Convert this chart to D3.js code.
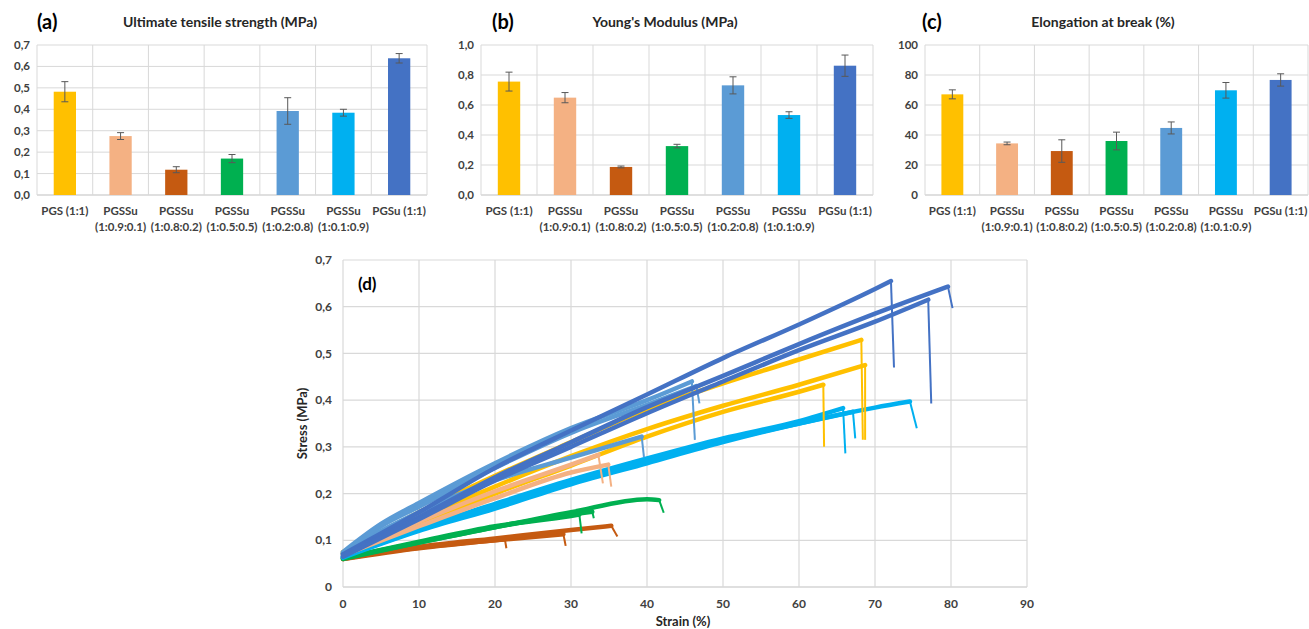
<!DOCTYPE html>
<html>
<head>
<meta charset="utf-8">
<script src="https://cdn.jsdelivr.net/npm/d3@7"></script>
<style>
  body { margin: 0; background: #fff; }
  svg text { font-family: Lato, "Open Sans", sans-serif; font-weight: 700; fill: #404040; }
</style>
</head>
<body>
<svg id="chart" width="1309" height="629"></svg>
<script>
// sample names (shared by the three bar panels)
const categories = ['PGS (1:1)', 'PGSSu (1:0.9:0.1)', 'PGSSu (1:0.8:0.2)', 'PGSSu (1:0.5:0.5)',
  'PGSSu (1:0.2:0.8)', 'PGSSu (1:0.1:0.9)', 'PGSu (1:1)']
const colors = ['#FFC000', '#F4B183', '#C55A11', '#00B050', '#5B9BD5', '#00B0F0', '#4472C4']

// (a) ultimate tensile strength, MPa
const utsValues = [0.482, 0.275, 0.118, 0.170, 0.392, 0.384, 0.638]
const utsErrors = [0.047, 0.016, 0.014, 0.019, 0.062, 0.016, 0.022]
// (b) Young's modulus, MPa
const modulusValues = [0.756, 0.649, 0.187, 0.326, 0.731, 0.533, 0.862]
const modulusErrors = [0.063, 0.034, 0.006, 0.012, 0.057, 0.022, 0.071]
// (c) elongation at break, %
const elongValues = [67.1, 34.4, 29.3, 36.0, 44.7, 69.8, 76.7]
const elongErrors = [3.0, 0.9, 7.5, 5.9, 4.0, 5.2, 4.1]

const utsTicks = [0, 0.1, 0.2, 0.3, 0.4, 0.5, 0.6, 0.7]
const modulusTicks = [0, 0.2, 0.4, 0.6, 0.8, 1.0]
const elongTicks = [0, 20, 40, 60, 80, 100]

// (d) stress-strain curves: [strain %, stress MPa], last point = end of the break drop
const pgs1 = [[0, 0.075], [10, 0.16], [20, 0.238], [30, 0.31], [40, 0.38], [50, 0.436], [60, 0.487], [68.2, 0.529], [68.4, 0.315]]
const pgs2 = [[0, 0.072], [10, 0.145], [20, 0.215], [30, 0.28], [40, 0.338], [50, 0.388], [60, 0.433], [68.7, 0.475], [68.7, 0.315]]
const pgs3 = [[0, 0.072], [10, 0.135], [20, 0.2], [30, 0.26], [40, 0.322], [50, 0.375], [60, 0.418], [63.2, 0.433], [63.3, 0.30]]
const su91a = [[0, 0.07], [10, 0.14], [20, 0.205], [30, 0.262], [33.6, 0.283], [34.2, 0.222]]
const su91b = [[0, 0.068], [10, 0.13], [20, 0.19], [30, 0.245], [34.9, 0.262], [35.3, 0.215]]
const su82a = [[0, 0.062], [10, 0.084], [20, 0.1], [21.3, 0.102], [21.5, 0.083]]
const su82b = [[0, 0.06], [10, 0.083], [20, 0.1], [29, 0.113], [29.3, 0.088]]
const su82c = [[0, 0.06], [10, 0.086], [20, 0.104], [30, 0.122], [35.3, 0.131], [36.1, 0.108]]
const su55a = [[0, 0.062], [10, 0.097], [20, 0.13], [30, 0.152], [31.1, 0.155], [31.4, 0.115]]
const su55b = [[0, 0.062], [10, 0.095], [20, 0.128], [30, 0.155], [32.8, 0.161], [33, 0.147]]
const su55c = [[0, 0.06], [10, 0.095], [20, 0.128], [30, 0.16], [40, 0.188], [41.6, 0.186], [42.2, 0.159]]
const su28a = [[0, 0.072], [5, 0.12], [10, 0.16], [20, 0.228], [30, 0.277], [39.3, 0.322], [39.6, 0.278]]
const su28b = [[0, 0.075], [5, 0.135], [10, 0.18], [20, 0.265], [30, 0.34], [40, 0.4], [45.9, 0.44], [46.3, 0.315]]
const su28c = [[0, 0.072], [5, 0.13], [10, 0.172], [20, 0.255], [30, 0.33], [40, 0.39], [46.5, 0.43], [46.9, 0.393]]
const su19a = [[0, 0.065], [10, 0.125], [20, 0.178], [30, 0.229], [40, 0.275], [50, 0.318], [60, 0.355], [65.8, 0.383], [66.1, 0.286]]
const su19b = [[0, 0.065], [10, 0.122], [20, 0.172], [30, 0.224], [40, 0.27], [50, 0.313], [60, 0.35], [67.1, 0.375], [67.4, 0.318]]
const su19c = [[0, 0.063], [10, 0.12], [20, 0.168], [30, 0.22], [40, 0.265], [50, 0.31], [60, 0.35], [70, 0.384], [74.6, 0.397], [75.5, 0.34]]
const pgsu1 = [[0, 0.07], [10, 0.16], [20, 0.255], [30, 0.335], [40, 0.412], [50, 0.49], [60, 0.562], [70, 0.638], [72.1, 0.655], [72.5, 0.47]]
const pgsu2 = [[0, 0.068], [10, 0.15], [20, 0.235], [30, 0.31], [40, 0.385], [50, 0.452], [60, 0.52], [70, 0.585], [79.6, 0.643], [80.2, 0.597]]
const pgsu3 = [[0, 0.065], [10, 0.145], [20, 0.228], [30, 0.3], [40, 0.372], [50, 0.44], [60, 0.507], [70, 0.568], [77, 0.615], [77.4, 0.393]]

// drawing order, with the sample index each group belongs to
const curveSets = [
  { sample: 2, curves: [su82a, su82b, su82c] },
  { sample: 3, curves: [su55a, su55b, su55c] },
  { sample: 5, curves: [su19a, su19b, su19c] },
  { sample: 0, curves: [pgs1, pgs2, pgs3] },
  { sample: 1, curves: [su91a, su91b] },
  { sample: 4, curves: [su28a, su28b, su28c] },
  { sample: 6, curves: [pgsu1, pgsu2, pgsu3] }
]

const svg = d3.select('#chart')
const comma = f => v => d3.format(f)(v).replace('.', ',')
const grid = '#d9d9d9'

function barPanel(p) {
  const g = svg.append('g')
  const x = d3.scaleBand().domain(categories).range([p.left, p.right])
  const y = d3.scaleLinear().domain([0, p.ticks[p.ticks.length - 1]]).range([195, 45])

  g.selectAll('.hg').data(p.ticks).enter().append('line')
    .attr('x1', p.left).attr('x2', p.right)
    .attr('y1', d => y(d)).attr('y2', d => y(d))
    .attr('stroke', (d, i) => i === 0 ? '#bfbfbf' : grid).attr('stroke-width', 1)
  const edges = categories.map(c => x(c)).concat([p.right])
  g.selectAll('.vg').data(edges).enter().append('line')
    .attr('x1', d => d).attr('x2', d => d)
    .attr('y1', y.range()[1]).attr('y2', y.range()[0])
    .attr('stroke', grid).attr('stroke-width', 1)

  const bw = x.bandwidth() * 0.4
  g.selectAll('rect').data(p.values).enter().append('rect')
    .attr('x', (d, i) => x(categories[i]) + (x.bandwidth() - bw) / 2)
    .attr('width', bw)
    .attr('y', d => y(d)).attr('height', d => y(0) - y(d))
    .attr('fill', (d, i) => colors[i])

  const err = g.selectAll('.err').data(p.values).enter().append('g')
    .attr('transform', (d, i) => `translate(${x(categories[i]) + x.bandwidth() / 2},0)`)
  err.append('line').attr('y1', (d, i) => y(d - p.errors[i])).attr('y2', (d, i) => y(d + p.errors[i]))
    .attr('stroke', '#595959').attr('stroke-width', 1)
  err.append('line').attr('x1', -3.5).attr('x2', 3.5)
    .attr('y1', (d, i) => y(d + p.errors[i])).attr('y2', (d, i) => y(d + p.errors[i]))
    .attr('stroke', '#595959').attr('stroke-width', 1)
  err.append('line').attr('x1', -3.5).attr('x2', 3.5)
    .attr('y1', (d, i) => y(d - p.errors[i])).attr('y2', (d, i) => y(d - p.errors[i]))
    .attr('stroke', '#595959').attr('stroke-width', 1)

  g.selectAll('.yt').data(p.ticks).enter().append('text')
    .attr('x', p.left - 7).attr('y', d => y(d)).attr('dy', '0.35em')
    .attr('text-anchor', 'end').attr('font-size', 11.5)
    .text(p.format)

  const lab = g.selectAll('.xl').data(categories).enter().append('text')
    .attr('text-anchor', 'middle').attr('font-size', 11.5)
    .attr('transform', d => `translate(${x(d) + x.bandwidth() / 2},0)`)
  lab.each(function (d) {
    const parts = d.startsWith('PGSSu') ? ['PGSSu', d.slice(6)] : [d]
    d3.select(this).selectAll('tspan').data(parts).enter().append('tspan')
      .attr('x', 0).attr('y', (t, j) => 215 + j * 16).text(t => t)
  })

  g.append('text').attr('x', p.titleX).attr('y', 27).attr('text-anchor', 'middle')
    .attr('font-size', 14).style('fill', '#262626').text(p.title)
  g.append('text').attr('x', p.tagX).attr('y', 29).attr('font-size', 20)
    .style('fill', '#000').text(p.tag)
}

barPanel({ left: 37, right: 427, ticks: utsTicks, format: comma('.1f'), values: utsValues, errors: utsErrors,
  title: 'Ultimate tensile strength (MPa)', titleX: 220, tag: '(a)', tagX: 37 })
barPanel({ left: 481, right: 873, ticks: modulusTicks, format: comma('.1f'), values: modulusValues, errors: modulusErrors,
  title: "Young's Modulus (MPa)", titleX: 665, tag: '(b)', tagX: 492 })
barPanel({ left: 925, right: 1308, ticks: elongTicks, format: d3.format('d'), values: elongValues, errors: elongErrors,
  title: 'Elongation at break (%)', titleX: 1103, tag: '(c)', tagX: 922 })

// (d) stress-strain panel
const sx = d3.scaleLinear().domain([0, 90]).range([343, 1027])
const sy = d3.scaleLinear().domain([0, 0.7]).range([587, 260])
const d = svg.append('g')
const strainTicks = d3.range(0, 91, 10)
const stressTicks = [0, 0.1, 0.2, 0.3, 0.4, 0.5, 0.6, 0.7]

d.selectAll('.hg').data(stressTicks).enter().append('line')
  .attr('x1', sx(0)).attr('x2', sx(90)).attr('y1', v => sy(v)).attr('y2', v => sy(v))
  .attr('stroke', (v, i) => i === 0 ? '#bfbfbf' : grid).attr('stroke-width', 1.2)
d.selectAll('.vg').data(strainTicks).enter().append('line')
  .attr('x1', v => sx(v)).attr('x2', v => sx(v)).attr('y1', sy(0.7)).attr('y2', sy(0))
  .attr('stroke', grid).attr('stroke-width', 1.2)

d.selectAll('.yt').data(stressTicks).enter().append('text')
  .attr('x', sx(0) - 11).attr('y', v => sy(v)).attr('dy', '0.35em')
  .attr('text-anchor', 'end').attr('font-size', 12)
  .text(v => v === 0 ? '0' : comma('.1f')(v))
d.selectAll('.xt').data(strainTicks).enter().append('text')
  .attr('x', v => sx(v)).attr('y', sy(0) + 21)
  .attr('text-anchor', 'middle').attr('font-size', 12).text(v => v)

const rise = d3.line().x(p => sx(p[0])).y(p => sy(p[1])).curve(d3.curveMonotoneX)
const drop = d3.line().x(p => sx(p[0])).y(p => sy(p[1]))
curveSets.forEach(set => {
  set.curves.forEach(c => {
    d.append('path').attr('d', drop(c.slice(-2)))
      .attr('fill', 'none').attr('stroke', colors[set.sample]).attr('stroke-width', 2)
    d.append('path').attr('d', rise(c.slice(0, -1)))
      .attr('fill', 'none').attr('stroke', colors[set.sample])
      .attr('stroke-width', 4.5).attr('stroke-linejoin', 'round').attr('stroke-linecap', 'round')
  })
})

d.append('text').attr('x', 358).attr('y', 290).attr('font-size', 17).style('fill', '#000').text('(d)')
d.append('text').attr('transform', `translate(307,${(sy(0) + sy(0.7)) / 2}) rotate(-90)`)
  .attr('text-anchor', 'middle').attr('font-size', 13).style('fill', '#262626').text('Stress (MPa)')
d.append('text').attr('x', 683).attr('y', 626).attr('text-anchor', 'middle')
  .attr('font-size', 13).style('fill', '#262626').text('Strain (%)')
</script>
</body>
</html>
